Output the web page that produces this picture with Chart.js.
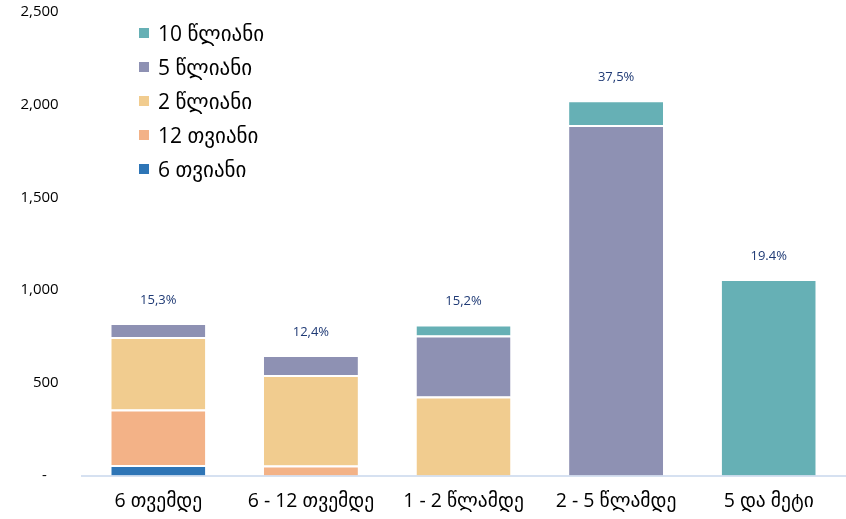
<!DOCTYPE html>
<html><head><meta charset="utf-8">
<script src="https://cdn.jsdelivr.net/npm/chart.js@4/dist/chart.umd.min.js"></script>
<style>
html,body{margin:0;padding:0;background:#fff;}
#wrap{position:relative;width:846px;height:519px;}
#legend{position:absolute;left:139px;top:16px;font-family:'Open Sans','DejaVu Sans',sans-serif;font-size:21px;color:#000;}
#legend div{height:34px;line-height:28px;display:flex;align-items:center;}
#legend span.sw{display:inline-block;width:10px;height:10px;margin-right:9px;}
</style></head>
<body><div id="wrap"><canvas id="c" width="846" height="519"></canvas><div id="legend"></div></div>
<script>
const categories = ['6 თვემდე', '6 - 12 თვემდე', '1 - 2 წლამდე', '2 - 5 წლამდე', '5 და მეტი'];
const sixMonth   = [57, 0, 0, 0, 0];
const twelveMonth= [299, 55, 0, 0, 0];
const twoYear    = [391, 488, 427, 0, 0];
const fiveYear   = [76, 108, 329, 1891, 0];
const tenYear    = [0, 0, 59, 133, 1060];
const shareLabels= ['15,3%', '12,4%', '15,2%', '37,5%', '19.4%'];
const seriesNames= ['6 თვიანი', '12 თვიანი', '2 წლიანი', '5 წლიანი', '10 წლიანი'];
const colors     = ['#2E75B6', '#F3B287', '#F1CC8F', '#8E91B3', '#66B0B5'];
const yTicks     = [0, 500, 1000, 1500, 2000, 2500];

const seriesData = [sixMonth, twelveMonth, twoYear, fiveYear, tenYear];
const datasets = seriesData.map((d, i) => ({
  label: seriesNames[i], data: d, backgroundColor: colors[i],
  borderColor: '#ffffff', borderWidth: {top: 2, left: 0, right: 0, bottom: 0}, borderSkipped: false,
  categoryPercentage: 1, barPercentage: 0.616
}));

const leg = document.getElementById('legend');
for (let i = seriesNames.length - 1; i >= 0; i--) {
  const r = document.createElement('div');
  r.innerHTML = '<span class="sw" style="background:' + colors[i] + '"></span>' + seriesNames[i];
  leg.appendChild(r);
}

const labelPlugin = {
  id: 'topLabels',
  afterDatasetsDraw(chart) {
    const ctx = chart.ctx, y = chart.scales.y, x = chart.scales.x;
    ctx.save();
    ctx.font = '13px "Open Sans", "DejaVu Sans", sans-serif';
    ctx.fillStyle = '#1F3A75';
    ctx.textAlign = 'center';
    ctx.textBaseline = 'middle';
    categories.forEach((c, i) => {
      const total = seriesData.reduce((s, d) => s + d[i], 0);
      ctx.fillText(shareLabels[i], x.getPixelForValue(i), y.getPixelForValue(total) - 23);
    });
    ctx.restore();
  }
};

const pad = '      ';
new Chart(document.getElementById('c'), {
  type: 'bar',
  data: {labels: categories, datasets},
  plugins: [labelPlugin],
  options: {
    responsive: false, animation: false,
    layout: {padding: {top: 12, right: 1, left: 0, bottom: -8}},
    plugins: {legend: {display: false}, tooltip: {enabled: false}},
    scales: {
      x: {
        stacked: true,
        grid: {display: false, drawTicks: false},
        border: {color: '#D6E1F1', width: 2},
        ticks: {color: '#000', padding: 14, font: {family: '"Open Sans","DejaVu Sans",sans-serif', size: 19.5}}
      },
      y: {
        stacked: true, min: 0, max: 2500,
        afterFit: s => { s.width = 82; },
        afterBuildTicks: s => { s.ticks = yTicks.map(v => ({value: v})); },
        grid: {display: false, drawTicks: false},
        border: {display: false},
        ticks: {
          color: '#000', padding: 0,
          font: {family: '"Open Sans","DejaVu Sans",sans-serif', size: 15},
          callback: v => v === 0 ? '-' + pad + '   ' : v.toLocaleString('en-US') + pad
        }
      }
    }
  }
});
</script></body></html>
